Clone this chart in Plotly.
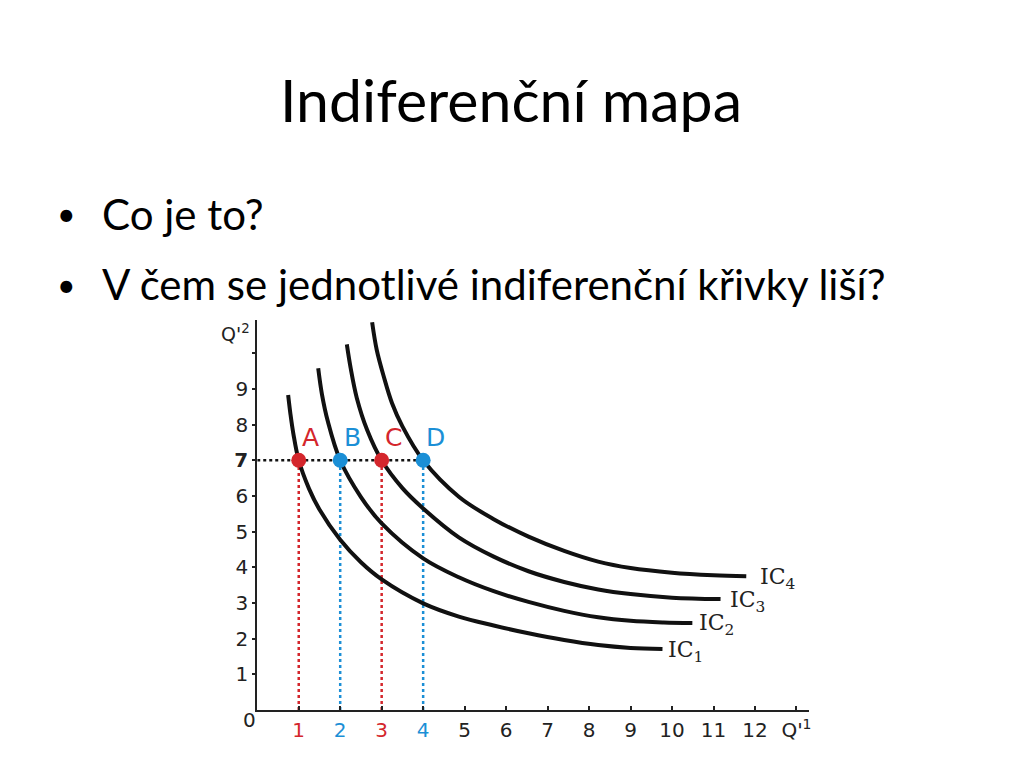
import plotly.graph_objects as go

# ---- data ----
ic1_x = [0.745, 0.80, 0.87, 1.0, 1.25, 1.5, 2.0, 2.5, 3.0, 4.0, 4.86, 5.7, 6.54, 7.4, 8.22, 9.0, 9.77]
ic1_y = [8.83, 8.3, 7.75, 7.0, 6.2, 5.62, 4.77, 4.14, 3.66, 2.99, 2.62, 2.37, 2.15, 1.96, 1.82, 1.74, 1.71]
ic2_x = [1.47, 1.56, 1.7, 2.0, 2.5, 3.0, 4.0, 4.86, 5.7, 6.54, 7.4, 8.22, 9.0, 9.8, 10.49]
ic2_y = [9.58, 8.85, 8.1, 7.0, 5.97, 5.23, 4.25, 3.72, 3.33, 3.03, 2.78, 2.60, 2.50, 2.455, 2.44]
ic3_x = [2.16, 2.25, 2.4, 2.65, 3.0, 3.5, 4.0, 4.86, 5.7, 6.54, 7.4, 8.22, 9.0, 10.0, 11.17]
ic3_y = [10.25, 9.6, 8.75, 7.85, 7.0, 6.22, 5.65, 4.84, 4.30, 3.89, 3.59, 3.38, 3.25, 3.15, 3.11]
ic4_x = [2.77, 2.88, 3.05, 3.25, 3.5, 4.0, 4.86, 5.7, 6.54, 7.4, 8.22, 9.0, 10.0, 11.0, 11.79]
ic4_y = [10.87, 10.1, 9.35, 8.6, 7.95, 7.0, 5.98, 5.35, 4.86, 4.46, 4.16, 3.98, 3.85, 3.78, 3.75]
curve_names = ["IC<sub>1</sub>", "IC<sub>2</sub>", "IC<sub>3</sub>", "IC<sub>4</sub>"]

point_x = [1, 2, 3, 4]
point_y = 7
point_labels = ["A", "B", "C", "D"]

x_ticks = list(range(1, 14))
x_tick_labels = ["1", "2", "3", "4", "5", "6", "7", "8", "9", "10", "11", "12", "Q'<sup>1</sup>"]
y_ticks = list(range(1, 11))
y_tick_labels = ["1", "2", "3", "4", "5", "6", "<b>7</b>", "8", "9", ""]

title_text = "Indiferenční mapa"
bullets = ["Co je to?", "V čem se jednotlivé indiferenční křivky liší?"]

# ---- styles ----
RED = "#d4262c"
BLUE = "#1b8fd6"
point_colors = [RED, BLUE, RED, BLUE]
tick_colors = [RED, BLUE, RED, BLUE] + ["#222222"] * 9
label_xshift = [4, 5, 7, 12]

W, H = 1024, 768
X0_PX, PX_PER_X = 258, 41.6
Y0_PX, PX_PER_Y = 710, 35.67
X_MAX, Y_MAX = 13.3, 10.93

fig = go.Figure()

# dotted guide lines
for px, c in zip(point_x, point_colors):
    fig.add_trace(go.Scatter(x=[px, px], y=[0, point_y], mode="lines",
                             line=dict(color=c, width=2.5, dash="dot"),
                             hoverinfo="skip", showlegend=False))
fig.add_trace(go.Scatter(x=[0, max(point_x)], y=[point_y, point_y], mode="lines",
                         line=dict(color="#111111", width=2.5, dash="dot"),
                         hoverinfo="skip", showlegend=False))

# indifference curves
curves = [(ic1_x, ic1_y), (ic2_x, ic2_y), (ic3_x, ic3_y), (ic4_x, ic4_y)]
for (cx, cy), name in zip(curves, curve_names):
    fig.add_trace(go.Scatter(x=cx, y=cy, mode="lines",
                             line=dict(color="#111111", width=4, shape="spline", smoothing=1.0),
                             name=name, showlegend=False))

# points
fig.add_trace(go.Scatter(x=point_x, y=[point_y] * len(point_x), mode="markers",
                         marker=dict(color=point_colors, size=15, line=dict(width=0)),
                         showlegend=False))

annotations = []
# point letters
for px, lab, c in zip(point_x, point_labels, point_colors):
    annotations.append(dict(x=px, y=point_y, xref="x", yref="y", text=lab, showarrow=False,
                            xshift=12, yshift=23, yanchor="middle",
                            font=dict(family="DejaVu Sans", size=25, color=c)))
# curve labels
for (cx, cy), name, dx in zip(curves, curve_names, label_xshift):
    annotations.append(dict(x=cx[-1], y=cy[-1], xref="x", yref="y", text=name, showarrow=False,
                            xanchor="left", yanchor="middle", xshift=dx, yshift=-2,
                            font=dict(family="DejaVu Serif", size=22, color="#222222")))
# origin and y-axis name
annotations.append(dict(x=250 / W, y=1 - 720 / H, xref="paper", yref="paper", text="0",
                        showarrow=False, xanchor="center", yanchor="middle",
                        font=dict(family="DejaVu Sans", size=20, color="#222222")))
annotations.append(dict(x=236 / W, y=1 - 333 / H, xref="paper", yref="paper", text="Q'<sup>2</sup>",
                        showarrow=False, xanchor="center", yanchor="middle",
                        font=dict(family="DejaVu Sans", size=19, color="#222222")))
# slide title and bullets
annotations.append(dict(x=512 / W, y=1 - 99 / H, xref="paper", yref="paper", text=title_text,
                        showarrow=False, xanchor="center", yanchor="middle",
                        font=dict(family="Lato", size=59, color="#000000")))
for i, b in enumerate(bullets):
    yy = 1 - (214 + 70 * i) / H
    annotations.append(dict(x=67 / W, y=yy, xref="paper", yref="paper", text="•",
                            showarrow=False, xanchor="center", yanchor="middle",
                            font=dict(family="Lato", size=32, color="#000000")))
    annotations.append(dict(x=100 / W, y=yy, xref="paper", yref="paper", text=b,
                            showarrow=False, xanchor="left", yanchor="middle",
                            font=dict(family="Lato", size=42, color="#000000")))

x_ticktext = [f'<span style="color:{c}">{t}</span>' for t, c in zip(x_tick_labels, tick_colors)]

fig.update_layout(
    width=W, height=H,
    margin=dict(l=0, r=0, t=0, b=0),
    paper_bgcolor="white", plot_bgcolor="white",
    showlegend=False,
    annotations=annotations,
    xaxis=dict(domain=[X0_PX / W, (X0_PX + X_MAX * PX_PER_X) / W], range=[0, X_MAX],
               showgrid=False, zeroline=False, showline=True, linecolor="#222222", linewidth=2,
               ticks="inside", ticklen=4, tickwidth=1.5, tickcolor="#222222",
               tickvals=x_ticks, ticktext=x_ticktext, ticklabelstandoff=1,
               tickfont=dict(family="DejaVu Sans", size=20, color="#222222"), fixedrange=True),
    yaxis=dict(domain=[1 - Y0_PX / H, 1 - (Y0_PX - Y_MAX * PX_PER_Y) / H], range=[0, Y_MAX],
               showgrid=False, zeroline=False, showline=True, linecolor="#222222", linewidth=2,
               ticks="outside", ticklen=3, tickwidth=1.5, tickcolor="#222222",
               tickvals=y_ticks, ticktext=y_tick_labels, ticklabelstandoff=0,
               tickfont=dict(family="DejaVu Sans", size=20, color="#222222"), fixedrange=True),
)

fig.write_html("out.html", config={"displayModeBar": False},
               post_script="document.body.style.margin='0';document.body.style.overflow='hidden';")
